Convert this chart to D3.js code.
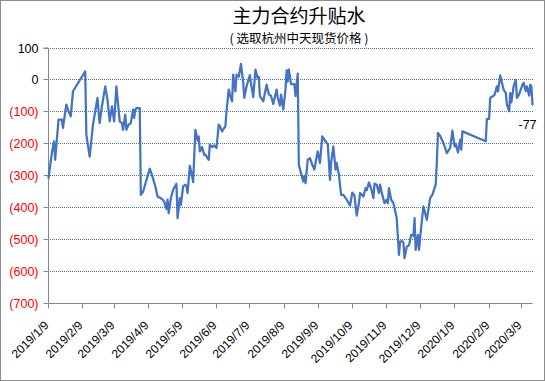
<!DOCTYPE html>
<html><head><meta charset="utf-8">
<script src="https://cdn.jsdelivr.net/npm/d3@7"></script>
<style>
html,body{margin:0;padding:0;background:#fff;}
svg{display:block;}
</style></head>
<body>
<svg id="c" width="545" height="381"></svg>
<script>
const title = "主力合约升贴水";
const subtitle = "( 选取杭州中天现货价格 )";
const dates = [
"2019-01-09","2019-01-12","2019-01-14","2019-01-15","2019-01-18","2019-01-21","2019-01-22","2019-01-25","2019-01-27","2019-01-29",
"2019-01-31","2019-02-01","2019-02-11","2019-02-12","2019-02-15","2019-02-18","2019-02-19","2019-02-22","2019-02-23","2019-02-24",
"2019-02-26","2019-03-01","2019-03-03","2019-03-05","2019-03-07","2019-03-09","2019-03-11","2019-03-13","2019-03-14","2019-03-16",
"2019-03-17","2019-03-19","2019-03-20","2019-03-22","2019-03-24","2019-03-26","2019-03-27","2019-03-28","2019-03-29","2019-04-01",
"2019-04-02","2019-04-04","2019-04-10","2019-04-12","2019-04-13","2019-04-15","2019-04-17","2019-04-21","2019-04-23","2019-04-25",
"2019-04-26","2019-04-27","2019-04-29","2019-05-01","2019-05-04","2019-05-05","2019-05-07","2019-05-08","2019-05-10","2019-05-12",
"2019-05-13","2019-05-14","2019-05-16","2019-05-18","2019-05-19","2019-05-21","2019-05-23","2019-05-24","2019-05-25","2019-05-27",
"2019-05-29","2019-05-30","2019-06-02","2019-06-03","2019-06-05","2019-06-07","2019-06-09","2019-06-11","2019-06-12","2019-06-14",
"2019-06-16","2019-06-17","2019-06-18","2019-06-20","2019-06-21","2019-06-23","2019-06-24","2019-06-26","2019-06-27","2019-06-29",
"2019-07-01","2019-07-03","2019-07-04","2019-07-06","2019-07-09","2019-07-10","2019-07-12","2019-07-14","2019-07-16","2019-07-17",
"2019-07-18","2019-07-21","2019-07-24","2019-07-26","2019-07-28","2019-07-30","2019-08-02","2019-08-03","2019-08-05","2019-08-06",
"2019-08-08","2019-08-10","2019-08-11","2019-08-12","2019-08-13","2019-08-15","2019-08-18","2019-08-19","2019-08-21","2019-08-22",
"2019-08-24","2019-08-26","2019-08-27","2019-08-28","2019-08-30","2019-09-01","2019-09-03","2019-09-05","2019-09-07","2019-09-08",
"2019-09-10","2019-09-12","2019-09-15","2019-09-17","2019-09-19","2019-09-20","2019-09-22","2019-09-24","2019-09-25","2019-09-27",
"2019-09-29","2019-10-01","2019-10-04","2019-10-07","2019-10-09","2019-10-11","2019-10-13","2019-10-15","2019-10-16","2019-10-19",
"2019-10-21","2019-10-22","2019-10-24","2019-10-26","2019-10-28","2019-10-29","2019-10-31","2019-11-02","2019-11-03","2019-11-05",
"2019-11-07","2019-11-09","2019-11-10","2019-11-11","2019-11-13","2019-11-15","2019-11-16","2019-11-18","2019-11-20","2019-11-21",
"2019-11-23","2019-11-24","2019-11-25","2019-11-27","2019-11-29","2019-12-01","2019-12-03","2019-12-04","2019-12-05","2019-12-07",
"2019-12-08","2019-12-10","2019-12-12","2019-12-15","2019-12-18","2019-12-20","2019-12-23","2019-12-24","2019-12-25","2019-12-27",
"2019-12-30","2020-01-02","2020-01-05","2020-01-07","2020-01-09","2020-01-10","2020-01-12","2020-01-14","2020-01-15","2020-01-16",
"2020-02-06","2020-02-07","2020-02-09","2020-02-10","2020-02-12","2020-02-14","2020-02-16","2020-02-17","2020-02-19","2020-02-22",
"2020-02-24","2020-02-25","2020-02-27","2020-02-28","2020-02-29","2020-03-02","2020-03-04","2020-03-05","2020-03-07","2020-03-10",
"2020-03-11","2020-03-13","2020-03-14","2020-03-16","2020-03-17","2020-03-18","2020-03-19"
];
const spread = [
-307,-229,-192,-250,-124,-124,-150,-77,-98,-114,
-36,-30,27,-171,-240,-140,-119,-56,-98,-135,
-83,-20,-62,-130,-83,-130,-20,-93,-130,-135,
-156,-109,-156,-140,-135,-93,-119,-93,-88,-88,
-360,-350,-278,-297,-310,-333,-365,-373,-381,-404,
-375,-417,-370,-344,-325,-433,-370,-391,-333,-328,
-333,-354,-269,-300,-320,-156,-190,-177,-224,-210,
-235,-234,-250,-203,-210,-205,-213,-140,-145,-161,
-150,-145,-98,-30,-45,-67,17,-36,17,10,
50,-9,-56,-20,15,-10,-54,32,5,10,
-51,-67,-15,-45,-50,-75,-30,-55,-80,-46,
-93,-30,30,-5,33,-13,-13,-51,20,-266,
-292,-318,-300,-323,-250,-245,-265,-281,-240,-224,
-260,-177,-192,-201,-313,-260,-208,-281,-260,-297,
-360,-360,-375,-393,-353,-362,-425,-386,-354,-365,
-339,-345,-321,-340,-370,-325,-328,-354,-328,-360,
-386,-375,-386,-339,-375,-386,-401,-433,-548,-506,
-505,-510,-558,-522,-518,-485,-488,-433,-532,-485,
-532,-459,-396,-438,-370,-360,-328,-260,-166,-175,
-198,-229,-213,-159,-208,-200,-227,-187,-218,-161,
-192,-122,-122,-56,-52,-46,-20,-36,14,-30,
-41,-77,-98,-41,-70,-20,0,-56,-45,-15,
-9,-35,-20,-49,-15,-20,-77
];
const yTicks = [100,0,-100,-200,-300,-400,-500,-600,-700];
const xTickDates = ["2019-01-09","2019-02-09","2019-03-09","2019-04-09","2019-05-09","2019-06-09","2019-07-09",
  "2019-08-09","2019-09-09","2019-10-09","2019-11-09","2019-12-09","2020-01-09","2020-02-09","2020-03-09"];
const xDomain = ["2019-01-09","2020-03-19"];
const lastLabel = "-77";

const parse = d3.timeParse("%Y-%m-%d");
const fmt = d3.timeFormat("%Y/%-m/%-d");
const data = dates.map((d,i)=>({date:parse(d), v:spread[i]}));

const svg = d3.select("#c");
const L = 48.5, R = 532.5, T = 48, B = 303.5;
const x = d3.scaleTime().domain(xDomain.map(parse)).range([L, R]);
const y = d3.scaleLinear().domain([-700,100]).range([B, T]);
const snap = v => Math.round(v-0.5)+0.5;

// outer border
svg.append("rect").attr("x",0.5).attr("y",0.5).attr("width",544).attr("height",380)
  .attr("fill","#fff").attr("stroke","#8c8c8c").attr("stroke-width",1);

// title
svg.append("text").attr("x",299).attr("y",23).attr("text-anchor","middle")
  .attr("font-family","'Noto Sans CJK SC', sans-serif").attr("font-size",19).attr("fill","#000").text(title);
svg.append("text").attr("x",299).attr("y",43).attr("text-anchor","middle")
  .attr("font-family","'Noto Sans CJK SC', sans-serif").attr("font-size",12.5).attr("fill","#000").text(subtitle);

// gridlines
svg.append("g").selectAll("line").data(yTicks.filter(t=>t>-700)).join("line")
  .attr("x1",L+1).attr("x2",R)
  .attr("y1",d=>snap(y(d))).attr("y2",d=>snap(y(d)))
  .attr("stroke","#4472C4").attr("stroke-width",1).attr("stroke-dasharray","1,1")
  .attr("shape-rendering","crispEdges");

// y axis
const yAxis = d3.axisLeft(y).tickValues(yTicks).tickSize(5).tickPadding(5)
  .tickFormat(d=> d<0 ? "("+Math.abs(d)+")" : String(d));
const gy = svg.append("g").attr("transform",`translate(${L},0)`).call(yAxis);
gy.select(".domain").attr("stroke","#868686").attr("d",`M-5,${T}H0V${B}`);
gy.selectAll(".tick line").attr("stroke","#868686");
gy.selectAll(".tick").attr("transform",d=>`translate(0,${snap(y(d))})`);
gy.selectAll(".tick text").attr("font-family","'Liberation Sans', Arial, sans-serif").attr("font-size",12.5)
  .attr("fill",d=> d<0 ? "#ff0000" : "#000");

// x axis
const xAxis = d3.axisBottom(x).tickValues(xTickDates.map(parse)).tickSize(5).tickFormat(fmt);
const gx = svg.append("g").attr("transform",`translate(0,${B})`).call(xAxis);
gx.select(".domain").attr("stroke","#868686").attr("d",`M${L},0H${R}`);
gx.selectAll(".tick line").attr("stroke","#868686");
gx.selectAll(".tick").attr("transform",d=>`translate(${snap(x(d))},0)`);
gx.selectAll(".tick text").attr("font-family","'Liberation Sans', Arial, sans-serif").attr("font-size",12)
  .attr("fill","#000").attr("text-anchor","end")
  .attr("x",0).attr("y",0).attr("dy","0.35em")
  .attr("transform","translate(-2,19.5) rotate(-45)");

// line
const line = d3.line().x(d=>x(d.date)).y(d=>y(d.v));
svg.append("path").datum(data).attr("d",line).attr("fill","none")
  .attr("stroke","#4472C4").attr("stroke-width",2.25).attr("stroke-linejoin","round").attr("stroke-linecap","round");

// last value label
const last = data[data.length-1];
svg.append("text").attr("x",x(last.date)-14).attr("y",y(last.v)+24)
  .attr("font-family","'Liberation Sans', Arial, sans-serif").attr("font-size",12.5).attr("fill","#000").text(lastLabel);
</script>
</body></html>
